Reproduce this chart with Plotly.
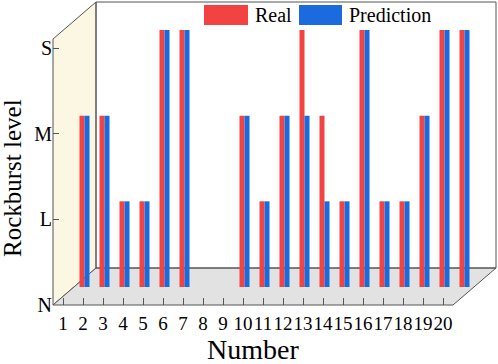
import plotly.graph_objects as go

# ---- data ----
numbers = list(range(1, 21))
level_labels = ["N", "L", "M", "S"]
real = [2, 2, 1, 1, 3, 3, 0, 0, 2, 1, 2, 3, 2, 1, 3, 1, 1, 2, 3, 3]
prediction = [2, 2, 1, 1, 3, 3, 0, 0, 2, 1, 2, 2, 1, 1, 3, 1, 1, 2, 3, 3]
series_names = ["Real", "Prediction"]
colors = ["#F24242", "#1B6BDE"]

FONT = "Liberation Serif, Times New Roman, serif"
W, H = 498, 364
# plot area in pixels
PL, PR, PT, PB = 53, 496, 2, 305
PX_PER_X = 20.0
PX_PER_Y = (305 - 48) / 3.0
X0 = 0.5
X1 = X0 + (PR - PL) / PX_PER_X
Y0 = 0.0
Y1 = (PB - PT) / PX_PER_Y
# 3D depth (full) in axis units
DXF, DYF = 43 / PX_PER_X, 37 / PX_PER_Y
# bars sit at mid depth
DXB, DYB = 21.5 / PX_PER_X, 18 / PX_PER_Y
FRONT_TOP = (PB - 39) / PX_PER_Y
X_END = 20.5


def px(x):
    return (x - X0) / (X1 - X0)


def py(y):
    return (y - Y0) / (Y1 - Y0)


fig = go.Figure()
# invisible trace so the front (tick) axes are drawn
fig.add_trace(go.Scatter(x=[X0, X1], y=[Y0, Y1], mode="markers",
                         marker=dict(opacity=0), hoverinfo="skip",
                         showlegend=False, xaxis="x", yaxis="y"))
for name, vals, col in zip(series_names, [real, prediction], colors):
    fig.add_trace(go.Bar(x=numbers, y=vals, name=name, marker_color=col,
                         marker_line_width=0, xaxis="x2", yaxis="y2",
                         showlegend=False))

line = dict(color="#555555", width=1)
shapes = []
# left wall
shapes.append(dict(type="path", xref="paper", yref="paper", layer="below",
                   path=f"M {px(X0)},{py(0)} L {px(X0)},{py(FRONT_TOP)} L {px(X0+DXF)},{py(FRONT_TOP+DYF)} L {px(X0+DXF)},{py(DYF)} Z",
                   fillcolor="#FBF7E3", line=line))
# floor
shapes.append(dict(type="path", xref="paper", yref="paper", layer="below",
                   path=f"M {px(X0)},{py(0)} L {px(X_END)},{py(0)} L {px(X_END+DXF)},{py(DYF)} L {px(X0+DXF)},{py(DYF)} Z",
                   fillcolor="#E2E2E2", line=line))
# back wall
shapes.append(dict(type="rect", xref="paper", yref="paper", layer="below",
                   x0=px(X0+DXF), x1=px(X_END+DXF), y0=py(DYF), y1=py(FRONT_TOP+DYF),
                   fillcolor="rgba(0,0,0,0)", line=line))

# legend swatches (manual, to match large swatches)
leg_y0, leg_y1 = (PB - 25) / (PB - PT), (PB - 5) / (PB - PT)
sw = [(204, 248), (299, 342)]
annotations = []
for (a, b), col, name in zip(sw, colors, series_names):
    shapes.append(dict(type="rect", xref="paper", yref="paper",
                       x0=(a - PL) / (PR - PL), x1=(b - PL) / (PR - PL),
                       y0=leg_y0, y1=leg_y1, fillcolor=col, line=dict(width=0)))
    annotations.append(dict(xref="paper", yref="paper", x=(b + 5 - PL) / (PR - PL),
                            y=(leg_y0 + leg_y1) / 2, text=name, showarrow=False,
                            xanchor="left", yanchor="middle",
                            font=dict(family=FONT, size=20, color="black")))

annotations.append(dict(xref="paper", yref="paper", x=(253 - PL) / (PR - PL),
                        y=(PB - 349) / (PB - PT), text="Number", showarrow=False,
                        xanchor="center", yanchor="middle",
                        font=dict(family=FONT, size=28, color="black")))
annotations.append(dict(xref="paper", yref="paper", x=(13 - PL) / (PR - PL),
                        y=(PB - 178) / (PB - PT), text="Rockburst level", showarrow=False,
                        textangle=-90, xanchor="center", yanchor="middle",
                        font=dict(family=FONT, size=25, color="black")))

fig.update_layout(
    width=W, height=H,
    margin=dict(l=PL, r=W - PR, t=PT, b=H - PB, autoexpand=False),
    paper_bgcolor="white", plot_bgcolor="rgba(0,0,0,0)",
    barmode="group", bargap=0.5, bargroupgap=0,
    shapes=shapes, annotations=annotations,
    showlegend=False,
    xaxis=dict(range=[X0, X1], tickvals=numbers, ticktext=[str(n) for n in numbers],
               ticks="inside", ticklen=7, tickcolor="#555555", showgrid=False,
               zeroline=False, showline=False, tickangle=0, ticklabelstandoff=5,
               tickfont=dict(family=FONT, size=19, color="black")),
    yaxis=dict(range=[Y0, Y1], tickvals=[0, 1, 2, 3], ticktext=level_labels,
               ticks="inside", ticklen=6, tickcolor="#555555", showgrid=False,
               zeroline=False, showline=False,
               tickfont=dict(family=FONT, size=20, color="black")),
    xaxis2=dict(range=[X0 - DXB, X1 - DXB], overlaying="x", anchor="y2", visible=False),
    yaxis2=dict(range=[Y0 - DYB, Y1 - DYB], overlaying="y", anchor="x2", visible=False),
)

fig.write_html("out.html", config={"responsive": False, "displayModeBar": False},
               post_script="document.body.style.margin='0';document.body.style.overflow='hidden';")
